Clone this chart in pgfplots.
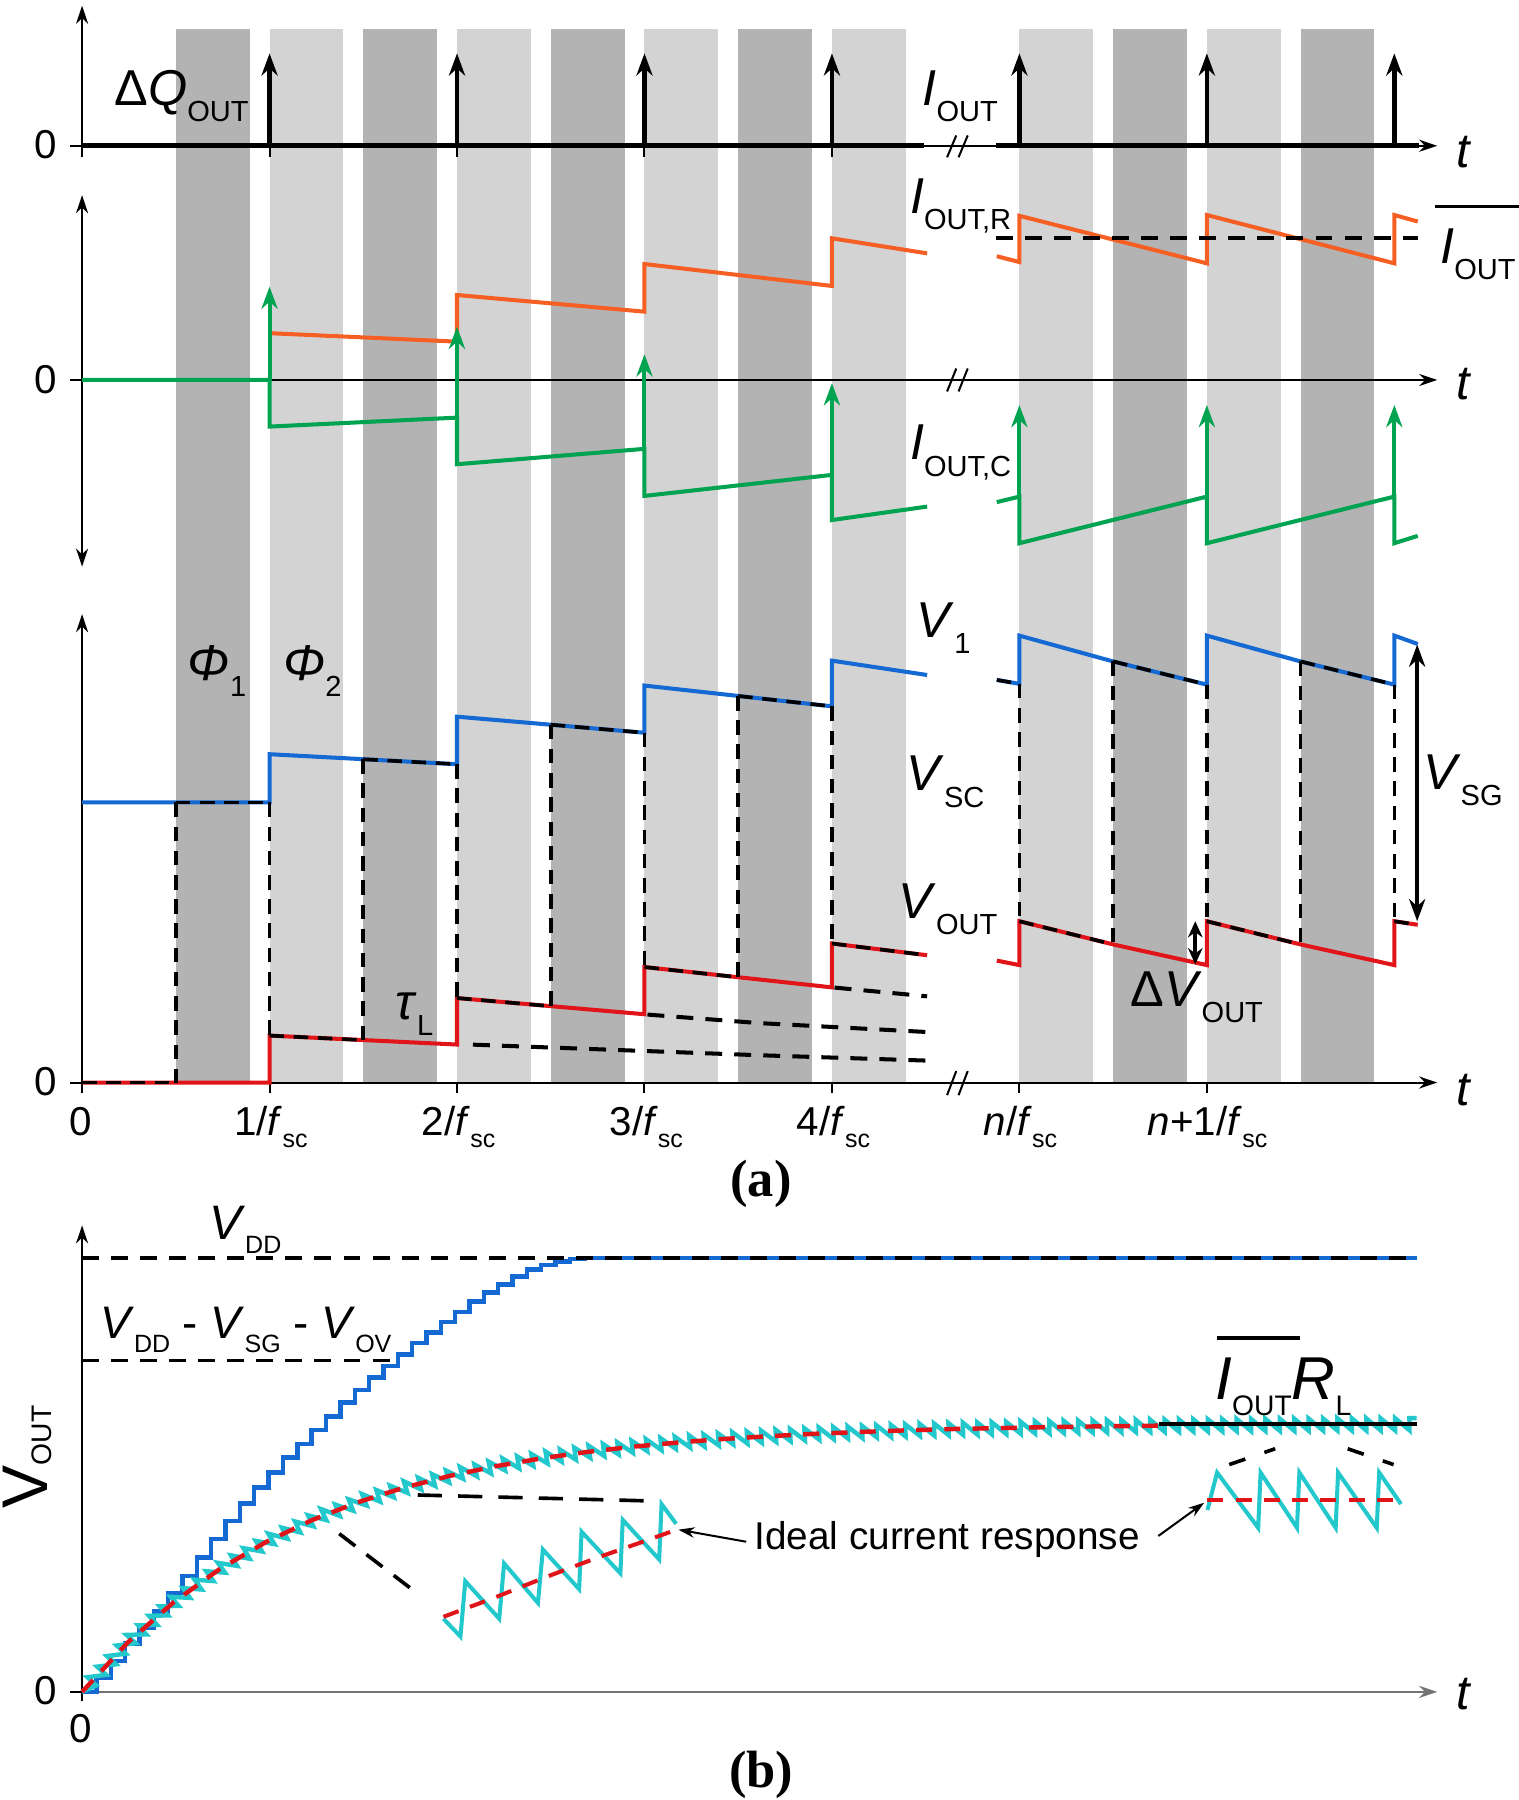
\documentclass[border=0pt]{standalone}
\usepackage{fontspec}
\setmainfont{Liberation Sans}
\newfontfamily\serif{Liberation Serif}
\usepackage{pgfplots}
\pgfplotsset{compat=1.18}
\usetikzlibrary{arrows.meta,decorations.pathmorphing}
\definecolor{dgray}{RGB}{179,179,179}
\definecolor{lgray}{RGB}{211,211,211}
\definecolor{cgreen}{RGB}{0,163,80}
\definecolor{corange}{RGB}{245,95,35}
\definecolor{cblue}{RGB}{20,105,210}
\definecolor{cred}{RGB}{225,20,25}
\definecolor{ccyan}{RGB}{35,200,205}
\newcommand{\mf}{\fontsize{12.5}{14}\selectfont}
\newcommand{\sbs}[1]{\raisebox{-4pt}{\fontsize{7.2}{8}\selectfont #1}}
\newcommand{\sbb}[1]{\raisebox{-3.6pt}{\fontsize{6.2}{7}\selectfont #1}}
\newcommand{\lbl}[2]{{\mf\textit{#1}\sbs{#2}}}
\newcommand{\tk}[1]{{\fontsize{10}{12}\selectfont #1}}
\newcommand{\fsc}[1]{\tk{#1/\textit{f}\raisebox{-3pt}{\fontsize{6.2}{7}\selectfont sc}}}
\newcommand{\tl}{{\fontsize{12}{14}\selectfont\textit{t}}}
\tikzset{
  ax/.style={black, line width=0.5pt},
  axa/.style={ax, -{Stealth[length=4.5pt,width=3pt]}},
  imp/.style={black, line width=1.1pt, -{Stealth[length=5.5pt,width=4pt]}},
  gimp/.style={cgreen, line width=1pt, -{Stealth[length=5.5pt,width=4pt]}},
  dsh/.style={black, line width=0.9pt, dash pattern=on 3.6pt off 2.4pt},
  lab/.style={inner sep=0pt, anchor=base west},
  col/.style={line width=1pt},
}
\begin{document}
\begin{tikzpicture}
\begin{axis}[
  scale only axis, width=132.3mm, height=156.8mm,
  xmin=0, xmax=1323, ymin=0, ymax=1568, y dir=reverse,
  axis lines=none, clip=false, enlargelimits=false, no markers,
]
% ---------- phase bars ----------
\addplot[fill=dgray, draw=none] coordinates {(153.15,25)(217.45,25)(217.45,943)(153.15,943)};
\addplot[fill=dgray, draw=none] coordinates {(316.45,25)(380.75,25)(380.75,943)(316.45,943)};
\addplot[fill=dgray, draw=none] coordinates {(479.75,25)(544.05,25)(544.05,943)(479.75,943)};
\addplot[fill=dgray, draw=none] coordinates {(643.05,25)(707.35,25)(707.35,943)(643.05,943)};
\addplot[fill=dgray, draw=none] coordinates {(969.65,25)(1033.95,25)(1033.95,943)(969.65,943)};
\addplot[fill=dgray, draw=none] coordinates {(1132.95,25)(1197.25,25)(1197.25,943)(1132.95,943)};
\addplot[fill=lgray, draw=none] coordinates {(234.8,25)(299.1,25)(299.1,943)(234.8,943)};
\addplot[fill=lgray, draw=none] coordinates {(398.1,25)(462.4,25)(462.4,943)(398.1,943)};
\addplot[fill=lgray, draw=none] coordinates {(561.4,25)(625.7,25)(625.7,943)(561.4,943)};
\addplot[fill=lgray, draw=none] coordinates {(724.7,25)(789.0,25)(789.0,943)(724.7,943)};
\addplot[fill=lgray, draw=none] coordinates {(888.0,25)(952.3,25)(952.3,943)(888.0,943)};
\addplot[fill=lgray, draw=none] coordinates {(1051.3,25)(1115.6,25)(1115.6,943)(1051.3,943)};
% ---------- panel 1 ----------
\addplot[axa] coordinates {(71.5,137)(71.5,5)};
\addplot[ax] coordinates {(61,127)(71.5,127)};
\addplot[axa] coordinates {(71.5,127)(1252,127)};
\addplot[black, line width=1.2pt] coordinates {(71.5,127)(805,127)};
\addplot[black, line width=1.2pt] coordinates {(868,127)(1236,127)};
\addplot[ax] coordinates {(234.8,127)(234.8,137)};
\addplot[ax] coordinates {(398.1,127)(398.1,137)};
\addplot[ax] coordinates {(561.4,127)(561.4,137)};
\addplot[ax] coordinates {(724.7,127)(724.7,137)};
\addplot[ax] coordinates {(825,137)(833,118)};
\addplot[ax] coordinates {(835,137)(843,118)};
\addplot[imp] coordinates {(234.8,127)(234.8,46.5)};
\addplot[imp] coordinates {(398.1,127)(398.1,46.5)};
\addplot[imp] coordinates {(561.4,127)(561.4,46.5)};
\addplot[imp] coordinates {(724.7,127)(724.7,46.5)};
\addplot[imp] coordinates {(888.0,127)(888.0,46.5)};
\addplot[imp] coordinates {(1051.3,127)(1051.3,46.5)};
\addplot[imp] coordinates {(1214.6,127)(1214.6,46.5)};
\node[inner sep=0pt, anchor=east] at (axis cs:50,126) {\tk{0}};
\node[lab] at (axis cs:99,91.5) {{\mf Δ\textit{Q}\sbs{OUT}}};
\node[lab] at (axis cs:803,91.5) {\lbl{I}{OUT}};
\node[lab] at (axis cs:1268,146) {\tl};
% ---------- panel 2 ----------
\addplot[ax, {Stealth[length=4.5pt,width=3pt]}-{Stealth[length=4.5pt,width=3pt]}] coordinates {(71.5,493.6)(71.5,170)};
\addplot[ax] coordinates {(61,331)(71.5,331)};
\addplot[axa] coordinates {(71.5,331)(1252,331)};
\addplot[ax] coordinates {(825,341)(833,321)};
\addplot[ax] coordinates {(835,341)(843,321)};
\addplot[corange, col] coordinates {(236,290.3)(398.1,297.6)(398.1,257)(561.4,271.5)(561.4,230)(724.7,249.1)(724.7,207.6)(807.6,220.7)};
\addplot[corange, col] coordinates {(868.3,223.2)(888,228.3)(888,188)(1051.3,229.4)(1051.3,187.3)(1214.6,229.4)(1214.6,187.3)(1235,193)};
\addplot[black, line width=1pt, dash pattern=on 4.2pt off 3pt] coordinates {(867.6,207.6)(1235,207.6)};
\addplot[cgreen, col] coordinates {(71.5,331)(234.8,331)(234.8,371.6)(398.1,363.8)(398.1,404.4)(561.4,391)(561.4,432)(724.7,413.7)(724.7,453)(807.6,441.3)};
\addplot[cgreen, col] coordinates {(868.3,437.4)(888,432.6)(888,473.2)(1051.3,432.6)(1051.3,473.2)(1214.6,432.6)(1214.6,473.2)(1235,466.8)};
\addplot[gimp] coordinates {(234.8,331)(234.8,249.7)};
\addplot[gimp] coordinates {(398.1,363.8)(398.1,284.6)};
\addplot[gimp] coordinates {(561.4,391)(561.4,308.6)};
\addplot[gimp] coordinates {(724.7,413.7)(724.7,333.8)};
\addplot[gimp] coordinates {(888,432.6)(888,352.8)};
\addplot[gimp] coordinates {(1051.3,432.6)(1051.3,352.8)};
\addplot[gimp] coordinates {(1214.6,432.6)(1214.6,352.8)};
\addplot[black, line width=0.8pt] coordinates {(1250,180)(1323,180)};
\node[inner sep=0pt, anchor=east] at (axis cs:50,331) {\tk{0}};
\node[lab] at (axis cs:792,186) {\lbl{I}{OUT,R}};
\node[lab] at (axis cs:1254,229.4) {\lbl{I}{OUT}};
\node[lab] at (axis cs:792,400.7) {\lbl{I}{OUT,C}};
\node[lab] at (axis cs:1268,348) {\tl};
% ---------- panel 3 ----------
\addplot[axa] coordinates {(71.5,952)(71.5,535)};
\addplot[ax] coordinates {(61,943)(71.5,943)};
\addplot[axa] coordinates {(71.5,943)(1252,943)};
\addplot[ax] coordinates {(234.8,943)(234.8,952)};
\addplot[ax] coordinates {(398.1,943)(398.1,952)};
\addplot[ax] coordinates {(561.4,943)(561.4,952)};
\addplot[ax] coordinates {(724.7,943)(724.7,952)};
\addplot[ax] coordinates {(888,943)(888,952)};
\addplot[ax] coordinates {(1051.3,943)(1051.3,952)};
\addplot[ax] coordinates {(825,954)(833,933)};
\addplot[ax] coordinates {(835,954)(843,933)};
\addplot[cblue, col] coordinates {(71.5,699)(234.8,699)(234.8,657)(398.1,665.7)(398.1,624.3)(561.4,638.3)(561.4,597.2)(724.7,615.3)(724.7,575.5)(807.6,588)};
\addplot[cblue, col] coordinates {(868.3,592.3)(888,595.7)(888,553.7)(969.65,576.2)(1051.3,596.4)(1051.3,553.7)(1132.95,576.2)(1214.6,596.4)(1214.6,553.7)(1235,561)};
\addplot[cred, col] coordinates {(71.5,943)(234.8,943)(234.8,902.1)(398.1,909.9)(398.1,869.4)(561.4,883.5)(561.4,842.4)(724.7,860.1)(724.7,821.9)(807.6,832.1)};
\addplot[cred, col] coordinates {(868.3,836.8)(888,840.7)(888,802.5)(969.65,822.7)(1051.3,840.7)(1051.3,802.5)(1132.95,822.7)(1214.6,840.7)(1214.6,802.5)(1235,805.6)};
% vertical dashed
\addplot[dsh] coordinates {(153.15,699)(153.15,943)};
\addplot[dsh] coordinates {(234.8,699)(234.8,902.1)};
\addplot[dsh] coordinates {(316.45,661.4)(316.45,906)};
\addplot[dsh] coordinates {(398.1,665.7)(398.1,869.4)};
\addplot[dsh] coordinates {(479.75,631.3)(479.75,876.5)};
\addplot[dsh] coordinates {(561.4,638.3)(561.4,842.4)};
\addplot[dsh] coordinates {(643.05,606.3)(643.05,851.3)};
\addplot[dsh] coordinates {(724.7,615.3)(724.7,821.9)};
\addplot[dsh] coordinates {(888,595.7)(888,802.5)};
\addplot[dsh] coordinates {(969.65,576.2)(969.65,822.7)};
\addplot[dsh] coordinates {(1051.3,596.4)(1051.3,802.5)};
\addplot[dsh] coordinates {(1132.95,576.2)(1132.95,822.7)};
\addplot[dsh] coordinates {(1214.6,596.4)(1214.6,802.5)};
% dashed overlays
\addplot[dsh] coordinates {(153.15,699)(234.8,699)};
\addplot[dsh] coordinates {(316.45,661.4)(398.1,665.7)};
\addplot[dsh] coordinates {(479.75,631.3)(561.4,638.3)};
\addplot[dsh] coordinates {(643.05,606.3)(724.7,615.3)};
\addplot[dsh] coordinates {(868.3,592.3)(888,595.7)};
\addplot[dsh] coordinates {(969.65,576.2)(1051.3,596.4)};
\addplot[dsh] coordinates {(1132.95,576.2)(1214.6,596.4)};
\addplot[dsh] coordinates {(71.5,943)(153.15,943)};
\addplot[dsh] coordinates {(234.8,902.1)(316.45,906)};
\addplot[dsh] coordinates {(398.1,869.4)(479.75,876.5)};
\addplot[dsh] coordinates {(561.4,842.4)(643.05,851.3)};
\addplot[dsh] coordinates {(724.7,821.9)(807.6,832.1)};
\addplot[dsh] coordinates {(888,802.5)(969.65,822.7)};
\addplot[dsh] coordinates {(1051.3,802.5)(1132.95,822.7)};
\addplot[dsh] coordinates {(1214.6,802.5)(1235,805.6)};
% decay tails
\addplot[dsh, line width=1pt, dash pattern=on 4.2pt off 3pt] coordinates {(412,910)(661,919.2)(807.6,923.9)};
\addplot[dsh, line width=1pt, dash pattern=on 4.2pt off 3pt] coordinates {(564,883.8)(661,891.2)(807.6,899)};
\addplot[dsh, line width=1pt, dash pattern=on 4.2pt off 3pt] coordinates {(727,860.3)(807.6,867.9)};
% double arrows
\addplot[black, line width=1pt, {Stealth[length=5.5pt,width=4pt]}-{Stealth[length=5.5pt,width=4pt]}] coordinates {(1234.5,561.5)(1234.5,802.5)};
\addplot[black, line width=1pt, {Stealth[length=4pt,width=3.6pt]}-{Stealth[length=4pt,width=3.6pt]}] coordinates {(1041.2,802.5)(1041.2,840)};
\node[inner sep=0pt, anchor=east] at (axis cs:50,942) {\tk{0}};
\node[lab] at (axis cs:163,592.5) {\lbl{Φ}{1}};
\node[lab] at (axis cs:246,592.5) {\lbl{Φ}{2}};
\node[lab] at (axis cs:798,555) {\lbl{V}{1}};
\node[lab] at (axis cs:789,689) {\lbl{V}{SC}};
\node[lab] at (axis cs:782,800) {\lbl{V}{OUT}};
\node[lab] at (axis cs:1239,687.5) {\lbl{V}{SG}};
\node[lab] at (axis cs:984,877) {{\mf Δ\textit{V}\sbs{OUT}}};
\node[lab] at (axis cs:344,888) {\lbl{τ}{L}};
\node[lab] at (axis cs:1268,963) {\tl};
\node[inner sep=0pt, anchor=base] at (axis cs:70.5,989) {\tk{0}};
\node[inner sep=0pt, anchor=base] at (axis cs:236,989) {\fsc{1}};
\node[inner sep=0pt, anchor=base] at (axis cs:399.5,989) {\fsc{2}};
\node[inner sep=0pt, anchor=base] at (axis cs:563,989) {\fsc{3}};
\node[inner sep=0pt, anchor=base] at (axis cs:726,989) {\fsc{4}};
\node[inner sep=0pt, anchor=base] at (axis cs:889,989) {\fsc{\textit{n}}};
\node[inner sep=0pt, anchor=base] at (axis cs:1052,989) {\fsc{\textit{n}+1}};
\node[inner sep=0pt] at (axis cs:663,1031) {\serif\bfseries\fontsize{13}{15}\selectfont (a)};
% ---------- panel b ----------
\addplot[axa] coordinates {(71.5,1482)(71.5,1067.4)};
\addplot[ax] coordinates {(61,1473.8)(71.5,1473.8)};
\addplot[ax, black!55, -{Stealth[length=4.5pt,width=3pt]}] coordinates {(71.5,1473.8)(1252,1473.8)};
\addplot[cblue, line width=1.1pt, const plot] coordinates {(71.5,1473.8)(84,1461.8)(96.5,1446.8)(109,1431.8)(121.5,1417.8)(134,1403.8)(146.5,1387.8)(159,1372.8)(171.5,1356.8)(184,1340.8)(196.5,1324.8)(209,1309.8)(221.5,1295.8)(234,1282.8)(246.5,1269.8)(259,1257.8)(271.5,1245.8)(284,1233.8)(296.5,1221.8)(309,1210.8)(321.5,1199.8)(334,1189.8)(346.5,1179.8)(359,1169.8)(371.5,1160.8)(384,1151.8)(396.5,1142.8)(409,1133.8)(421.5,1125.8)(434,1118.8)(446.5,1111.8)(459,1105.8)(471.5,1101.8)(484,1098.8)(496.5,1096.8)(509,1095.6)(1234,1095.6)};
\addplot[black, line width=0.9pt, dash pattern=on 4.2pt off 3pt] coordinates {(71.5,1095.6)(1234,1095.6)};
\addplot[black, line width=0.9pt, dash pattern=on 4.2pt off 3pt] coordinates {(71.5,1185.2)(341.6,1185.2)};
\addplot[ccyan, line width=1.1pt, decorate, decoration={saw, segment length=3.57pt, amplitude=-3pt, raise=1.5pt}] coordinates {(71.5,1473.8)(111.5,1430.6)(151.5,1395.5)(191.5,1366.7)(231.5,1343.4)(271.5,1324.3)(311.5,1308.7)(351.5,1296.0)(391.5,1285.7)(431.5,1277.3)(471.5,1270.4)(511.5,1264.8)(551.5,1260.2)(591.5,1256.5)(631.5,1253.4)(671.5,1251.0)(711.5,1248.9)(751.5,1247.3)(791.5,1245.9)(831.5,1244.8)(871.5,1244.0)(911.5,1243.2)(951.5,1242.6)(991.5,1242.1)(1031.5,1241.8)(1071.5,1241.4)(1111.5,1241.2)(1151.5,1240.9)(1191.5,1240.8)(1234,1240.6)};
\addplot[cred, line width=1.1pt, dash pattern=on 4pt off 3pt] coordinates {(71.5,1473.8)(111.5,1430.6)(151.5,1395.5)(191.5,1366.7)(231.5,1343.4)(271.5,1324.3)(311.5,1308.7)(351.5,1296.0)(391.5,1285.7)(431.5,1277.3)(471.5,1270.4)(511.5,1264.8)(551.5,1260.2)(591.5,1256.5)(631.5,1253.4)(671.5,1251.0)(711.5,1248.9)(751.5,1247.3)(791.5,1245.9)(831.5,1244.8)(871.5,1244.0)(911.5,1243.2)(951.5,1242.6)(991.5,1242.1)(1009,1241.9)};
\addplot[black, line width=1.1pt] coordinates {(1009.7,1240.6)(1234,1240.6)};
% left inset
\addplot[black, line width=0.9pt, dash pattern=on 5pt off 3.5pt] coordinates {(295.5,1336)(363.1,1387.7)};
\addplot[black, line width=0.9pt, dash pattern=on 6pt off 4pt] coordinates {(363.9,1302.3)(567.9,1307.5)};
\addplot[ccyan, line width=1pt] coordinates {(386.3,1410.1)(401.1,1425.6)(405.3,1377.4)(434.9,1410.1)(439.1,1361.9)(468.6,1396.3)(472.9,1349.8)(504.5,1384.3)(506.6,1334.3)(540.4,1370.5)(542.5,1324)(574.2,1358.4)(576.3,1310.2)(589,1327.4)};
\addplot[cred, line width=1pt, dash pattern=on 4pt off 3pt] coordinates {(386.3,1408.4)(430,1392)(475,1374)(520,1357)(560,1343)(588,1333)};
% right inset
\addplot[black, line width=0.9pt, dash pattern=on 4.2pt off 5pt] coordinates {(1070.8,1275.8)(1110.8,1262)};
\addplot[black, line width=0.9pt, dash pattern=on 4.2pt off 5pt] coordinates {(1174,1262)(1214,1275.8)};
\addplot[ccyan, line width=1pt] coordinates {(1051.8,1315.4)(1060.2,1282.7)(1096,1330.9)(1098.1,1282.7)(1129.8,1330.9)(1131.9,1282.7)(1163.5,1330.9)(1165.6,1282.7)(1199.3,1330.9)(1201.4,1282.7)(1220.4,1310.2)};
\addplot[cred, line width=1pt, dash pattern=on 4pt off 3pt] coordinates {(1051.7,1306.8)(1220.3,1306.8)};
% annotation arrows
\addplot[black, line width=0.5pt, -{Stealth[length=4pt,width=2.6pt]}] coordinates {(650,1343)(591,1332.5)};
\addplot[black, line width=0.5pt, -{Stealth[length=4pt,width=2.6pt]}] coordinates {(1009,1338)(1049,1309)};
\addplot[black, line width=0.8pt] coordinates {(1060,1165.6)(1132,1165.6)};
\node[lab] at (axis cs:656.5,1349.8) {\fontsize{9.6}{11}\selectfont Ideal current response};
\node[lab] at (axis cs:181.5,1079.4) {{\fontsize{12}{14}\selectfont\textit{V}\sbb{DD}}};
\node[lab] at (axis cs:86.5,1165.6) {{\fontsize{11.3}{13}\selectfont\textit{V}\sbb{DD} - \textit{V}\sbb{SG} - \textit{V}\sbb{OV}}};
\node[lab] at (axis cs:1058,1219) {{\fontsize{15}{17}\selectfont\textit{I}\raisebox{-4pt}{\fontsize{7}{8}\selectfont OUT}\textit{R}\raisebox{-4pt}{\fontsize{7}{8}\selectfont L}}};
\node[inner sep=0pt, rotate=90] at (axis cs:24,1269) {\fontsize{16}{18}\selectfont V\raisebox{-1pt}{\fontsize{7}{8}\selectfont OUT}};
\node[inner sep=0pt, anchor=east] at (axis cs:50,1473) {\tk{0}};
\node[inner sep=0pt, anchor=base] at (axis cs:70.5,1518) {\tk{0}};
\node[lab] at (axis cs:1268,1489) {\tl};
\node[inner sep=0pt] at (axis cs:663,1546) {\serif\bfseries\fontsize{13}{15}\selectfont (b)};
\end{axis}
\pgfresetboundingbox
\path[use as bounding box] (current axis.south west) rectangle (current axis.north east);
\end{tikzpicture}
\end{document}
